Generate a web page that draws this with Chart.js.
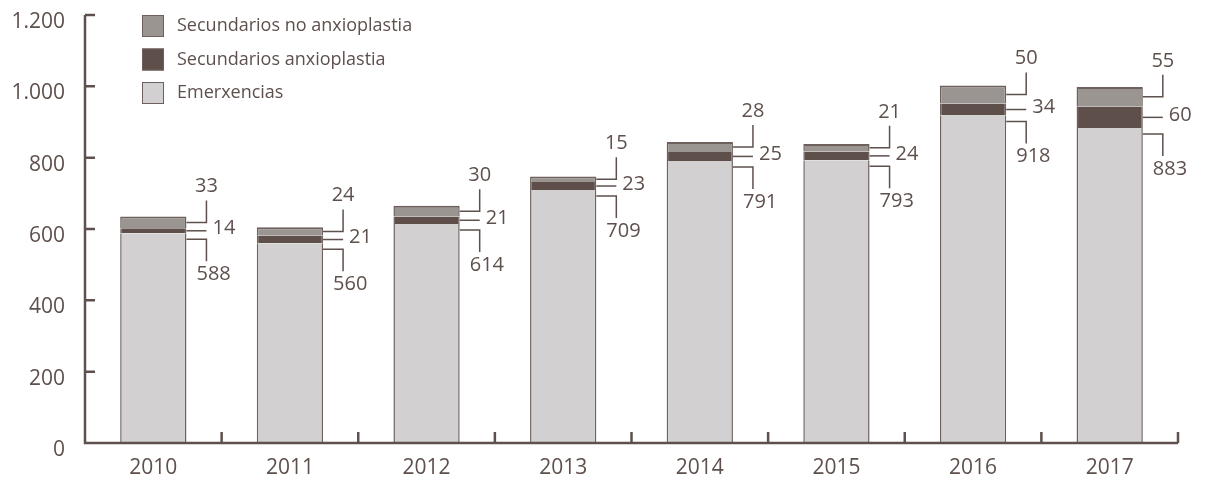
<!DOCTYPE html>
<html>
<head>
<meta charset="utf-8">
<script src="https://cdn.jsdelivr.net/npm/chart.js@4"></script>
<style>
  html, body { margin: 0; padding: 0; background: #fff; }
  #wrap { width: 1210px; height: 484px; }
</style>
</head>
<body>
<div id="wrap"><canvas id="chart" width="1210" height="484"></canvas></div>
<script>
// datos
const years = ['2010', '2011', '2012', '2013', '2014', '2015', '2016', '2017'];
const emerxencias = [588, 560, 614, 709, 791, 793, 918, 883];
const secAnxioplastia = [14, 21, 21, 23, 25, 24, 34, 60];
const secNoAnxioplastia = [33, 24, 30, 15, 28, 21, 50, 55];
const yTicks = [0, 200, 400, 600, 800, 1000, 1200];

const INK = '#5e504c';
const FONT = '"Open Sans", sans-serif';

function fmt(v) {
  return String(v).replace(/\B(?=(\d{3})+(?!\d))/g, '.');
}

// ejes propios: línea, marcas hacia dentro, etiquetas del eje y
const axesPlugin = {
  id: 'axesPlugin',
  afterDatasetsDraw(chart) {
    const { ctx, scales: { x, y } } = chart;
    const x0 = x.left, x1 = x.right, yb = y.getPixelForValue(0), yt = y.getPixelForValue(1200);
    ctx.save();
    ctx.strokeStyle = INK;
    ctx.lineWidth = 2.5;
    ctx.lineCap = 'butt';
    ctx.beginPath();
    ctx.moveTo(x0, yt);
    ctx.lineTo(x0, yb);
    ctx.lineTo(x1, yb);
    yTicks.forEach(v => {
      const py = y.getPixelForValue(v);
      ctx.moveTo(x0, py);
      ctx.lineTo(x0 + 10, py);
    });
    const half = (x.getPixelForValue(1) - x.getPixelForValue(0)) / 2;
    years.forEach((_, i) => {
      const px = x.getPixelForValue(i) + half;
      ctx.moveTo(px, yb);
      ctx.lineTo(px, yb - 11);
    });
    ctx.stroke();

    ctx.fillStyle = INK;
    ctx.font = '21px ' + FONT;
    ctx.textAlign = 'right';
    ctx.textBaseline = 'middle';
    yTicks.forEach(v => {
      ctx.fillText(fmt(v), x0 - 20, y.getPixelForValue(v) + 7);
    });
    ctx.restore();
  }
};

// etiquetas con líneas guía
const labelsPlugin = {
  id: 'labelsPlugin',
  afterDatasetsDraw(chart) {
    const { ctx, scales: { y } } = chart;
    const meta = chart.getDatasetMeta(0);
    ctx.save();
    ctx.strokeStyle = INK;
    ctx.fillStyle = INK;
    ctx.lineWidth = 1.5;
    ctx.font = '20px ' + FONT;
    years.forEach((_, i) => {
      const bar = meta.data[i];
      const right = bar.x + bar.width / 2;
      const lx = right + 20;
      const e = emerxencias[i], a = secAnxioplastia[i], n = secNoAnxioplastia[i];

      // superior
      const yTop = y.getPixelForValue(e + a + n / 2);
      ctx.beginPath();
      ctx.moveTo(right, yTop);
      ctx.lineTo(lx, yTop);
      ctx.lineTo(lx, yTop - 22);
      ctx.stroke();
      ctx.textAlign = 'center';
      ctx.textBaseline = 'middle';
      ctx.fillText(n, lx, yTop - 36);

      // medio
      const yMid = y.getPixelForValue(e + a / 2);
      ctx.beginPath();
      ctx.moveTo(right, yMid);
      ctx.lineTo(right + 20, yMid);
      ctx.stroke();
      ctx.textAlign = 'left';
      ctx.fillText(a, right + 26, yMid - 2);

      // inferior
      const yBot = y.getPixelForValue(e) + 6;
      ctx.beginPath();
      ctx.moveTo(right, yBot);
      ctx.lineTo(lx, yBot);
      ctx.lineTo(lx, yBot + 22);
      ctx.stroke();
      ctx.textAlign = 'left';
      ctx.fillText(e, lx - 10, yBot + 35);
    });
    ctx.restore();
  }
};

// leyenda vertical
const legendPlugin = {
  id: 'legendPlugin',
  afterDraw(chart) {
    const { ctx } = chart;
    const items = chart.data.datasets.slice().reverse();
    ctx.save();
    ctx.font = '18px ' + FONT;
    ctx.textAlign = 'left';
    ctx.textBaseline = 'middle';
    items.forEach((ds, k) => {
      const top = 15 + k * 33.5;
      ctx.fillStyle = ds.backgroundColor;
      ctx.fillRect(142, top, 22, 22);
      ctx.strokeStyle = '#6e605c';
      ctx.lineWidth = 1;
      ctx.strokeRect(142.5, top + 0.5, 21, 21);
      ctx.fillStyle = INK;
      ctx.fillText(ds.label, 177, top + 11);
    });
    ctx.restore();
  }
};

function createChart() {
  const ctx = document.getElementById('chart').getContext('2d');
  const common = { borderColor: '#6e605c', borderSkipped: false,
    categoryPercentage: 1, barPercentage: 0.485 };
  new Chart(ctx, {
    type: 'bar',
    data: {
      labels: years,
      datasets: [
        Object.assign({ label: 'Emerxencias', data: emerxencias, backgroundColor: '#d3d0d1',
          borderWidth: { left: 1.5, right: 1.5, top: 0, bottom: 0 } }, common),
        Object.assign({ label: 'Secundarios anxioplastia', data: secAnxioplastia, backgroundColor: '#5e4f4b',
          borderWidth: { left: 1.5, right: 1.5, top: 0, bottom: 0 } }, common),
        Object.assign({ label: 'Secundarios no anxioplastia', data: secNoAnxioplastia, backgroundColor: '#9b9592',
          borderWidth: { left: 1.5, right: 1.5, top: 2, bottom: 0 } }, common)
      ]
    },
    options: {
      responsive: false,
      animation: false,
      layout: { padding: { top: 15, right: 32, left: 85, bottom: 0 } },
      plugins: { legend: { display: false }, tooltip: { enabled: false } },
      scales: {
        x: {
          stacked: true,
          grid: { display: false, drawTicks: false },
          border: { display: false },
          ticks: { color: INK, font: { family: FONT, size: 21 }, padding: 12 },
          afterFit(s) { s.height = 41; }
        },
        y: {
          stacked: true,
          min: 0,
          max: 1200,
          display: false
        }
      }
    },
    plugins: [axesPlugin, labelsPlugin, legendPlugin]
  });
}

createChart();
</script>
</body>
</html>
